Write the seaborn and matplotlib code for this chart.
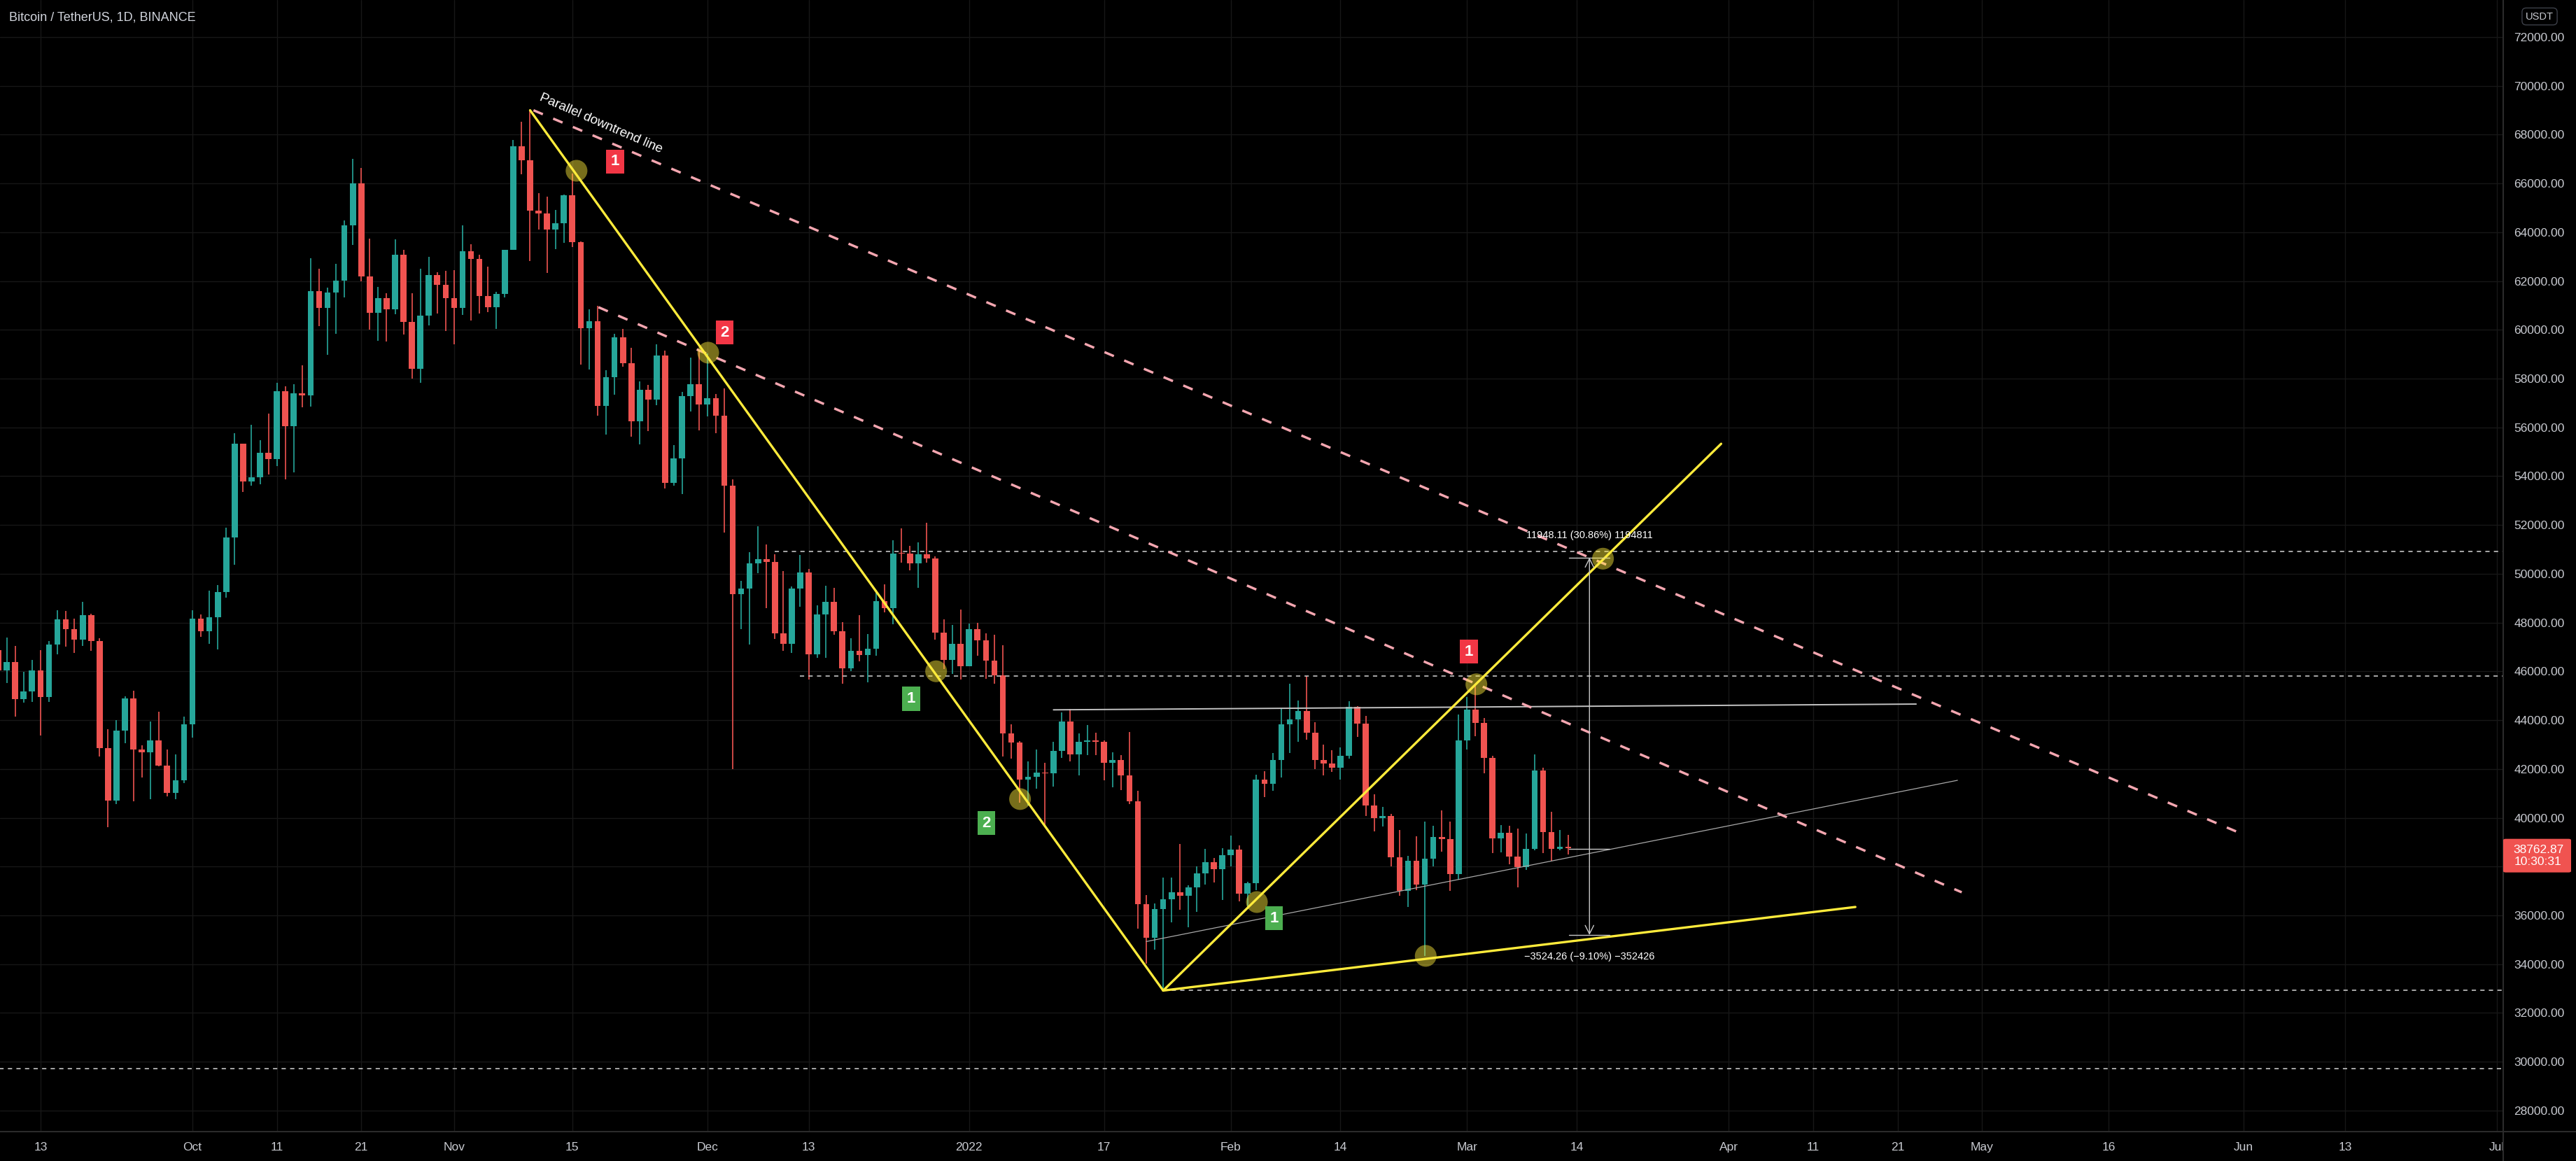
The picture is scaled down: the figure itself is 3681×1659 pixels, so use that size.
import numpy as np
import pandas as pd
import matplotlib
matplotlib.use("Agg")
import matplotlib.pyplot as plt
import seaborn as sns
from matplotlib.patches import Rectangle, FancyBboxPatch
from matplotlib.lines import Line2D

# ---------------- data (BTC/USDT daily) ----------------
start_date = "2021-09-08"
first_open = 46863

closes = [
    # Sep 8-30
    46048, 46395, 44850, 45173, 46025, 44940, 47111, 48121, 47737, 47299, 48292, 47241,
    42843, 40693, 43574, 44895, 42810, 42670, 43160, 42147, 41026, 41524, 43824,
    # Oct
    48165, 47657, 48233, 49245, 51493, 55339, 53797, 53963, 54963, 54691, 57484, 56041,
    57401, 57321, 61593, 60887, 61528, 62009, 64280, 66002, 62193, 60688, 61286, 60852,
    63078, 60328, 58413, 60575, 62253, 61859, 61300,
    # Nov
    60911, 63219, 62896, 61395, 60937, 61470, 63273, 67525, 66947, 64882, 64774, 64122,
    64380, 65519, 63606, 60058, 60344, 56891, 58052, 59707, 58622, 56247, 57541, 57138,
    58960, 53726, 54721, 57274, 57776, 56950,
    # Dec
    57184, 56480, 53601, 49152, 49396, 50441, 50588, 50471, 47545, 47140, 49389, 50053,
    46702, 48343, 48864, 47632, 46131, 46834, 46681, 46914, 48889, 48588, 50838, 50821,
    50429, 50809, 50640, 47588, 46464, 47120, 46216,
    # Jan
    47722, 47286, 46446, 45833, 43451, 43082, 41566, 41679, 41864, 41822, 42735, 43949,
    42591, 43099, 43177, 43114, 42250, 42375, 41744, 40680, 36445, 35071, 36244, 36660,
    36958, 36809, 37160, 37716, 38166, 37881, 38466,
    # Feb
    38690, 36896, 37311, 41574, 41382, 42380, 43840, 44043, 44372, 43495, 42373, 42217,
    42053, 42535, 44544, 43873, 40515, 39974, 40079, 38386, 37008, 38230, 37250, 38327,
    39219, 39116, 37700, 43160,
    # Mar 1-13
    44421, 43892, 42454, 39148, 39397, 38420, 37988, 38730, 41941, 39422, 38730, 38807,
    38762.87,
]
highs = [
    47381, 47399, 47031, 45987, 46460, 46876, 47250, 48500, 48486, 48150, 48843, 48372,
    47347, 43639, 44000, 44978, 45200, 42966, 43950, 44350, 42787, 42590, 44132,
    48495, 48336, 49300, 49529, 51886, 55750, 55340, 56100, 55489, 56561, 57839, 57687,
    57777, 58550, 62933, 62500, 61720, 62695, 64486, 67000, 66639, 63732, 61747, 61500,
    63710, 63293, 61496, 62499, 62980, 62359, 62405,
    62437, 64270, 63500, 63086, 62595, 61560, 63286, 67789, 68530, 69000, 65600, 65460,
    64915, 65550, 66401, 63617, 60840, 60976, 58351, 59845, 60029, 59266, 57875, 57735,
    59398, 59150, 55280, 57445, 58865, 59176,
    59041, 57375, 57600, 53859, 49699, 50891, 51936, 51200, 50797, 50125, 49485, 50777,
    50189, 48700, 49500, 49436, 48004, 47360, 48299, 47537, 49328, 49576, 51375, 51868,
    51156, 51281, 52088, 50704, 48139, 47900, 48548,
    47954, 47990, 47570, 47505, 47070, 43816, 43145, 42300, 42786, 42248, 43100, 44322,
    44459, 43448, 43800, 43476, 43179, 42691, 42564, 43505, 41100, 36835, 36499, 37550,
    37545, 38919, 37234, 38000, 38720, 38359, 38744,
    39265, 38855, 37387, 41772, 41913, 42656, 44500, 45492, 44799, 45821, 43920, 43000,
    42760, 42876, 44769, 44581, 44164, 40959, 40444, 40145, 39494, 38429, 39249, 39843,
    39683, 40300, 39855, 44225,
    44949, 45400, 44102, 42527, 39693, 39680, 39547, 39362, 42594, 42039, 40236, 39486,
    39310,
]
lows = [
    44412, 45514, 44132, 44722, 44742, 43370, 44750, 46700, 47020, 46750, 47044, 46829,
    42500, 39600, 40565, 43069, 40675, 41646, 40750, 42098, 40888, 40753, 41410,
    43283, 47430, 47120, 46895, 49020, 50382, 53357, 53613, 53661, 54080, 54415, 53879,
    54167, 56818, 56850, 60150, 58963, 59844, 61322, 63481, 62000, 60000, 59562, 59510,
    60650, 59817, 58000, 57820, 60174, 60673, 59945,
    59405, 60624, 60382, 60677, 60721, 60050, 61322, 63273, 66382, 62822, 64100, 62333,
    63303, 63576, 63400, 58574, 58373, 56474, 55705, 57353, 58486, 55610, 55317, 55837,
    56906, 53500, 53610, 53256, 56666, 55875,
    56458, 55777, 51680, 42000, 47727, 47100, 50039, 48600, 47320, 46852, 46751, 48638,
    45672, 46547, 46547, 47511, 45500, 45998, 46406, 45558, 46630, 48421, 47920, 50456,
    50142, 49412, 50450, 47313, 46096, 45900, 45678,
    46208, 46654, 45696, 45502, 42500, 42430, 40610, 40501, 41200, 39650, 41268, 42450,
    42311, 41725, 42555, 42581, 41540, 41250, 41138, 40553, 35440, 34008, 34601, 32917,
    35701, 36234, 35507, 36155, 37268, 37351, 36632,
    38000, 36586, 36250, 37026, 40843, 41116, 41645, 42667, 43117, 43187, 42004, 41748,
    41870, 41550, 42427, 43310, 40073, 39450, 39639, 38000, 36800, 36350, 37036, 34322,
    38014, 38600, 37000, 37450,
    42809, 43334, 41832, 38550, 38586, 38088, 37155, 37867, 38656, 38539, 38223, 38660,
    38500,
]

# x-axis labels (dates) and price ticks
tick_dates = ["2021-09-13", "2021-10-01", "2021-10-11", "2021-10-21", "2021-11-01",
              "2021-11-15", "2021-12-01", "2021-12-13", "2022-01-01", "2022-01-17",
              "2022-02-01", "2022-02-14", "2022-03-01", "2022-03-14", "2022-04-01",
              "2022-04-11", "2022-04-21", "2022-05-01", "2022-05-16", "2022-06-01",
              "2022-06-13", "2022-07-01"]
tick_labels = ["13", "Oct", "11", "21", "Nov", "15", "Dec", "13", "2022", "17", "Feb",
               "14", "Mar", "14", "Apr", "11", "21", "May", "16", "Jun", "13", "Jul"]
price_ticks = list(range(28000, 72001, 2000))

# drawings: x = days since 2022-01-01, y = price
yellow_lines = [((-52.0, 69000), (23.0, 32917)),
                ((23.0, 32917), (89.1, 55330)),
                ((23.0, 32917), (105.0, 36343))]
pink_lines = [((-51.6, 69000), (150.1, 39441)),
              ((-43.9, 60927), (117.6, 36945))]
grey_lines = [((10.0, 44424), (112.2, 44660), 1.4, "#c4c4c4"),
              ((21.0, 34926), (117.1, 41535), 0.9, "#a9a9a9")]
dashed_levels = [(-23.0, 50921), (-20.0, 45815), (23.0, 32917), (-120.0, 29725)]
circle_x = [-46.5, -30.9, -3.9, 6.04, 34.1, 54.1, 60.1, 75.1]
circle_y = [66521, 59063, 46004, 40766, 36544, 34338, 45471, 50620]
marks_x = [-41.95, -28.96, -6.88, 2.05, 36.13, 59.19]
marks_y = [66894, 59886, 44877, 39785, 35875, 46813]
marks_text = ["1", "2", "1", "2", "1", "1"]
marks_color = ["#f23645", "#f23645", "#4caf50", "#4caf50", "#4caf50", "#f23645"]
measure_base = 38717
measure_up = 50665
measure_down = 35193
measure_x = (71.05, 73.5, 75.9)
measure_up_text = "11948.11 (30.86%) 1194811"
measure_down_text = "\u22123524.26 (\u22129.10%) \u2212352426"
last_price_text = "38762.87\n10:30:31"

# ---------------- build frame ----------------
dates = pd.date_range(start_date, periods=len(closes), freq="D")
ref = pd.Timestamp("2022-01-01")
df = pd.DataFrame({"date": dates, "close": closes, "high": highs, "low": lows})
df["open"] = [first_open] + closes[:-1]
df["x"] = (df["date"] - ref).dt.days.astype(float)
tick_x = [(pd.Timestamp(d) - ref).days for d in tick_dates]

# ---------------- style ----------------
W, H = 3681, 1659
sns.set_style("dark", {"axes.facecolor": "black", "figure.facecolor": "black",
                       "grid.color": "#181818", "axes.edgecolor": "#2a2a2a"})
plt.rcParams["font.family"] = ["Liberation Sans", "DejaVu Sans"]

GREEN, RED = "#26a69a", "#ef5350"
fig = plt.figure(figsize=(W / 100, H / 100), dpi=100, facecolor="black")
ax = fig.add_axes([0, 42 / H, 3577 / W, 1617 / H])
ax.set_facecolor("black")
ax.set_xlim(-114.8, 181.75)
ax.set_ylim(27135, 73520)

ax.set_yticks(price_ticks)
ax.set_yticklabels([f"{p:.2f}" for p in price_ticks])
ax.set_xticks(tick_x)
ax.set_xticklabels(tick_labels)
ax.yaxis.tick_right()
ax.tick_params(axis="y", length=0, pad=11, labelsize=12.5, labelcolor="#c9cbd1")
ax.tick_params(axis="x", length=0, pad=11, labelsize=12.5, labelcolor="#c9cbd1")
ax.grid(True, color="#171717", lw=1.0)
ax.set_axisbelow(True)
for s in ax.spines.values():
    s.set_visible(False)

# ---------------- candles ----------------
up = df["close"] >= df["open"]
cols = np.where(up, GREEN, RED)
ax.vlines(df["x"], df["low"], df["high"], colors=cols, lw=1.2, zorder=2)
body_lo = np.minimum(df["open"], df["close"])
body_h = np.maximum((df["close"] - df["open"]).abs(), 30)
ax.bar(df["x"], body_h, bottom=body_lo, width=0.72, color=cols, linewidth=0, zorder=3)

# ---------------- drawings ----------------
x_right = ax.get_xlim()[1]
for (x0, y0) in dashed_levels:
    ax.plot([x0, x_right], [y0, y0], color="#d6d6d6", lw=1.1, dashes=(4, 4), zorder=4)

for (a, b, lw, c) in grey_lines:
    ax.plot([a[0], b[0]], [a[1], b[1]], color=c, lw=lw, zorder=4)

for (a, b) in pink_lines:
    ax.plot([a[0], b[0]], [a[1], b[1]], color="#f4a6b0", lw=2.5, dashes=(4.2, 4.6),
            zorder=5)

for (a, b) in yellow_lines:
    ax.plot([a[0], b[0]], [a[1], b[1]], color="#ffeb3b", lw=2.4, zorder=6,
            solid_capstyle="round")

# measure tool
mc = "#c8c8c8"
ax.plot([measure_x[0], measure_x[2]], [measure_base] * 2, color=mc, lw=1.0, zorder=6)
ax.plot([measure_x[0], measure_x[2]], [measure_up] * 2, color=mc, lw=1.0, zorder=6)
ax.plot([measure_x[0], measure_x[2]], [measure_down] * 2, color=mc, lw=1.0, zorder=6)
ax.annotate("", xy=(measure_x[1], measure_up), xytext=(measure_x[1], measure_base),
            arrowprops=dict(arrowstyle="->", color=mc, lw=1.0, mutation_scale=22,
                            shrinkA=0, shrinkB=0), zorder=6)
ax.annotate("", xy=(measure_x[1], measure_down), xytext=(measure_x[1], measure_base),
            arrowprops=dict(arrowstyle="->", color=mc, lw=1.0, mutation_scale=22,
                            shrinkA=0, shrinkB=0), zorder=6)
ax.text(measure_x[1], 51575, measure_up_text, ha="center", va="center", fontsize=10.5,
        color="white", zorder=9)
ax.text(measure_x[1], 34307, measure_down_text, ha="center", va="center", fontsize=10.5,
        color="white", zorder=9)

# circles
circ = pd.DataFrame({"x": circle_x, "y": circle_y})
sns.scatterplot(data=circ, x="x", y="y", ax=ax, s=500, color="#ffeb3b", alpha=0.47,
                edgecolor="none", zorder=7, legend=False)
ax.set_xlabel("")
ax.set_ylabel("")

# numbered marks
for mx, my, mt, mcol in zip(marks_x, marks_y, marks_text, marks_color):
    ax.text(mx, my, mt, ha="center", va="center", fontsize=16, fontweight="bold",
            color="white", zorder=10,
            bbox=dict(boxstyle="square,pad=0.3", fc=mcol, ec="none"))

# rotated label
ax.text(yellow_lines[0][0][0] + 0.9, 69300, "Parallel downtrend line", rotation=-23.5,
        rotation_mode="anchor", ha="left", va="bottom", fontsize=13.5, color="white",
        zorder=10)

# ---------------- chrome ----------------
fig.text(13 / W, 1 - 25 / H, "Bitcoin / TetherUS, 1D, BINANCE", ha="left", va="center",
         fontsize=13, color="#d1d4dc")
fig.text(3629 / W, 1 - 23.5 / H, "USDT", ha="center", va="center", fontsize=10.5,
         color="#c9cbd1",
         bbox=dict(boxstyle="round,pad=0.35,rounding_size=0.4", fc="black",
                   ec="#3d4049", lw=1.0))

# cover the clipped part of the last date label beneath the price scale
fig.add_artist(Rectangle((3578 / W, 0), 1 - 3578 / W, 41 / H, transform=fig.transFigure,
                         fc="black", ec="none", zorder=1))
# separators
fig.add_artist(Line2D([0, 1], [42 / H, 42 / H], transform=fig.transFigure,
                      color="#2b2b2b", lw=1.5, zorder=2))
fig.add_artist(Line2D([3577 / W, 3577 / W], [0, 1], transform=fig.transFigure,
                      color="#2b2b2b", lw=1.5, zorder=2))

# last price box
last_price = closes[-1]
y_disp = ax.transData.transform((0, last_price))[1]
fig.add_artist(FancyBboxPatch((3577 / W, (y_disp - 35) / H), 97 / W, 48 / H,
                              boxstyle="round,pad=0,rounding_size=0.001",
                              transform=fig.transFigure, fc="#f05350", ec="none",
                              zorder=3))
fig.text(3627 / W, (y_disp - 11) / H, last_price_text, ha="center", va="center",
         fontsize=12.5, color="white", linespacing=1.15, zorder=4)

fig.savefig("out.png", dpi=100, facecolor="black")
